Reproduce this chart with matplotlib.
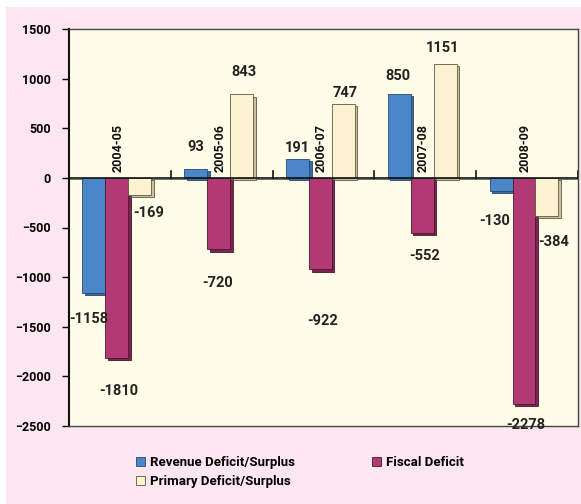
import matplotlib.pyplot as plt
import numpy as np
from matplotlib.patches import Rectangle

years=["2004-05","2005-06","2006-07","2007-08","2008-09"]
revenue=[-1158,93,191,850,-130]
fiscal=[-1810,-720,-922,-552,-2278]
primary=[-169,843,747,1151,-384]
names=["Revenue Deficit/Surplus","Fiscal Deficit","Primary Deficit/Surplus"]

colors=["#4a86c8","#b23a74","#faf2d0"]
shades=["#3a6aa0","#7a2450","#c9c29c"]
edges=["#2a4670","#4a1630","#5d5840"]

# label offsets in pixels (dx,dy) per series, Excel put them a bit oddly
offs=[[(-5,-26),(0,22),(0,11),(-1,18),(-6,-30)],
      [(2,-33),(-1,-34),(2,-52),(2,-23),(2,-21)],
      [(9,-18),(2,22),(2,11),(-3,16),(7,-26)]]

plt.rcParams['font.family']=['Roboto','DejaVu Sans']
fig=plt.figure(figsize=(5.81,5.04),dpi=100,facecolor="white")
fig.patches.append(Rectangle((6/581,0),1,1-7/504,transform=fig.transFigure,
                             facecolor="#fce6ef",edgecolor="none",zorder=-5))
ax=fig.add_axes([69/581,1-426/504,509/581,397/504])
ax.set_facecolor("#fffde8")

x=np.arange(len(years))
w=0.225
shift=-0.03
dx=0.025
dy=25
series=[revenue,fiscal,primary]
for k,vals in enumerate(series):
    xs=x+(k-1)*w+shift
    # depth shadow
    ax.bar(xs+dx,np.array(vals),bottom=-dy,width=w,color=shades[k],
           edgecolor=edges[k],linewidth=0.6,zorder=2)
    ax.bar(xs,vals,width=w,color=colors[k],edgecolor=edges[k],linewidth=0.6,
           zorder=3,label=names[k])
    for i,v in enumerate(vals):
        ox,oy=offs[k][i]
        ax.annotate(str(v),(xs[i],v),xytext=(ox,oy),textcoords="offset pixels",
                    ha="center",va="center",fontsize=10.5,fontweight="bold",
                    color="#222222",zorder=5)

for i,yr in enumerate(years):
    ax.text(x[i]-0.02,60,yr,rotation=90,ha="center",va="bottom",fontsize=9,
            fontweight="bold",color="#111111",zorder=5)

ax.axhline(0,color="#111111",lw=1.2,zorder=4)
ax.axhline(-dy*0.6,color="#555555",lw=0.6,zorder=1)
for b in np.arange(len(years)+1)-0.5:
    ax.plot([b,b],[0,70],color="#111111",lw=1.2,zorder=4)

ax.set_xlim(-0.5,len(years)-0.5)
ax.set_ylim(-2500,1500)
ax.set_yticks(np.arange(-2500,1501,500))
ax.set_xticks([])
ax.tick_params(axis="y",direction="out",length=5,width=1,labelsize=9,pad=8)
for t in ax.get_yticklabels():
    t.set_fontweight("bold")
for s in ["top","right","bottom"]:
    ax.spines[s].set_color("#444444")
    ax.spines[s].set_linewidth(1)
ax.spines["left"].set_linewidth(1.5)
ax.spines["left"].set_color("#111111")

handles,labels=ax.get_legend_handles_labels()
order=[0,2,1]
leg=fig.legend([handles[i] for i in order],[labels[i] for i in order],
               loc="upper left",bbox_to_anchor=(124/581,1-444/504),ncol=2,
               frameon=False,handlelength=0.7,handleheight=0.7,
               columnspacing=5.8,labelspacing=0.45,handletextpad=0.4,
               prop={"weight":"bold","size":9.5})

fig.savefig("out.png",dpi=100,facecolor=fig.get_facecolor())
